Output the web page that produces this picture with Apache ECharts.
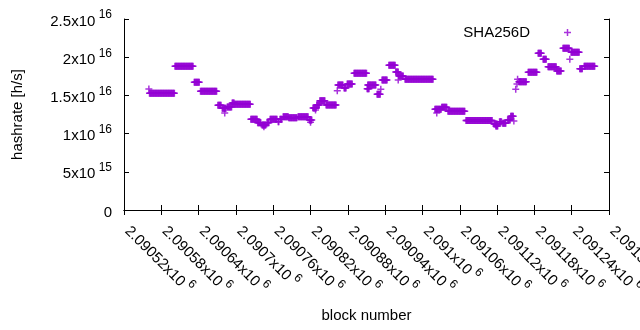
<!DOCTYPE html>
<html>
<head>
<meta charset="utf-8">
<script src="https://cdn.jsdelivr.net/npm/echarts@6/dist/echarts.min.js"></script>
<style>
  html, body { margin: 0; padding: 0; background: #fff; }
  #chart { width: 640px; height: 330px; }
</style>
</head>
<body>
<div id="chart"></div>
<script>
// hashrate is constant inside each run of blocks: first block, last block, value [h/s]
var segFirstBlock = [
  2090560, 2090561, 2090602, 2090633, 2090643, 2090671, 2090678, 2090682, 2090686, 2090694,
  2090698, 2090724, 2090735, 2090742, 2090745, 2090750, 2090755, 2090768, 2090771, 2090776,
  2090785, 2090800, 2090818, 2090820, 2090824, 2090828, 2090830, 2090835, 2090845, 2090863,
  2090864, 2090874, 2090879, 2090890, 2090911, 2090912, 2090927, 2090933, 2090935, 2090946,
  2090957, 2090961, 2090962, 2090972, 2091020, 2091023, 2091031, 2091041, 2091070, 2091115,
  2091118, 2091124, 2091129, 2091137, 2091142, 2091147, 2091150, 2091152, 2091153, 2091155,
  2091170, 2091186, 2091194, 2091202, 2091216, 2091226, 2091237, 2091239, 2091253, 2091260
]
var segLastBlock = [
  2090560, 2090601, 2090631, 2090641, 2090669, 2090676, 2090684, 2090682, 2090693, 2090697,
  2090723, 2090734, 2090740, 2090748, 2090745, 2090753, 2090766, 2090769, 2090774, 2090784,
  2090798, 2090816, 2090822, 2090820, 2090829, 2090828, 2090834, 2090843, 2090861, 2090863,
  2090872, 2090877, 2090887, 2090910, 2090914, 2090925, 2090932, 2090933, 2090943, 2090956,
  2090961, 2090961, 2090969, 2091017, 2091030, 2091023, 2091039, 2091068, 2091112, 2091120,
  2091121, 2091127, 2091134, 2091141, 2091146, 2091147, 2091150, 2091152, 2091153, 2091167,
  2091184, 2091191, 2091199, 2091215, 2091223, 2091236, 2091237, 2091252, 2091257, 2091277
]
var segHashrate = [
  1.584e16, 1.528e16, 1.881e16, 1.672e16, 1.554e16, 1.371e16, 1.331e16, 1.270e16, 1.348e16, 1.401e16,
  1.384e16, 1.187e16, 1.143e16, 1.113e16, 1.090e16, 1.143e16, 1.187e16, 1.156e16, 1.187e16, 1.221e16,
  1.208e16, 1.221e16, 1.178e16, 1.150e16, 1.335e16, 1.310e16, 1.374e16, 1.431e16, 1.374e16, 1.562e16,
  1.636e16, 1.597e16, 1.649e16, 1.789e16, 1.588e16, 1.636e16, 1.515e16, 1.580e16, 1.702e16, 1.894e16,
  1.806e16, 1.700e16, 1.754e16, 1.711e16, 1.318e16, 1.270e16, 1.344e16, 1.292e16, 1.173e16, 1.126e16,
  1.100e16, 1.156e16, 1.135e16, 1.178e16, 1.227e16, 1.165e16, 1.580e16, 1.649e16, 1.711e16, 1.680e16,
  1.803e16, 2.051e16, 1.973e16, 1.876e16, 1.820e16, 2.117e16, 1.973e16, 2.064e16, 1.850e16, 1.881e16
]

var xMin = 2090520
var xMax = 2091300
var xStep = 60
var yMin = 0
var yMax = 2.5e16
var yStep = 5e15

var seriesName = 'SHA256D'
var color = '#9400d3'
var plus = 'path://M5.5,0h3v5.5h5.5v3h-5.5v5.5h-3v-5.5h-5.5v-3h5.5z'
var font = 'Liberation Sans, Arial, sans-serif'

var points = []
for (var i = 0; i < segFirstBlock.length; i++) {
  for (var b = segFirstBlock[i]; b <= segLastBlock[i]; b++) {
    points.push([b, segHashrate[i]])
  }
}

// gnuplot style "2.5x10^16"
function sci(v) {
  if (v === 0) return '{m|0}'
  var e = Math.floor(Math.log10(v) + 1e-9)
  var m = parseFloat((v / Math.pow(10, e)).toPrecision(8))
  return '{m|' + m + 'x10}{s| ' + e + '}'
}

var rich = {
  m: { fontSize: 15, lineHeight: 20, verticalAlign: 'bottom', color: '#000', fontFamily: font },
  s: { fontSize: 12, lineHeight: 13, verticalAlign: 'top', color: '#000', fontFamily: font }
}

var tick = { show: true, inside: true, length: 5, lineStyle: { color: '#000', width: 1 } }
var line = { show: true, lineStyle: { color: '#000', width: 1 } }

var chart = echarts.init(document.getElementById('chart'))
chart.setOption({
  animation: false,
  backgroundColor: '#fff',
  grid: { left: 124, right: 31, top: 19, bottom: 120, outerBoundsMode: 'none', containLabel: false },
  legend: {
    right: 64,
    top: 20,
    itemWidth: 7,
    itemHeight: 7,
    align: 'right',
    data: [{ name: seriesName, icon: plus }],
    textStyle: { fontSize: 15, color: '#000', fontFamily: font, padding: [0, 29, 0, 0] }
  },
  xAxis: [{
    type: 'value',
    min: xMin,
    max: xMax,
    interval: xStep,
    name: 'block number',
    nameLocation: 'middle',
    nameGap: 98,
    nameTextStyle: { fontSize: 15, color: '#000', fontFamily: font },
    axisLine: line,
    axisTick: tick,
    splitLine: { show: false },
    axisLabel: { rotate: -45, margin: 12, padding: [0, 0, 0, 7], formatter: sci, rich: rich }
  }, {
    type: 'value',
    position: 'top',
    min: xMin,
    max: xMax,
    interval: xStep,
    axisLine: line,
    axisTick: tick,
    splitLine: { show: false },
    axisLabel: { show: false }
  }],
  yAxis: [{
    type: 'value',
    min: yMin,
    max: yMax,
    interval: yStep,
    name: 'hashrate [h/s]',
    nameLocation: 'middle',
    nameGap: 99,
    nameTextStyle: { fontSize: 15, color: '#000', fontFamily: font },
    axisLine: line,
    axisTick: tick,
    splitLine: { show: false },
    axisLabel: { margin: 12, formatter: sci, rich: rich }
  }, {
    type: 'value',
    position: 'right',
    min: yMin,
    max: yMax,
    interval: yStep,
    axisLine: line,
    axisTick: tick,
    splitLine: { show: false },
    axisLabel: { show: false }
  }],
  series: [{
    name: seriesName,
    type: 'scatter',
    xAxisIndex: 0,
    yAxisIndex: 0,
    symbol: plus,
    symbolSize: 7,
    itemStyle: { color: color },
    data: points
  }]
})
</script>
</body>
</html>
